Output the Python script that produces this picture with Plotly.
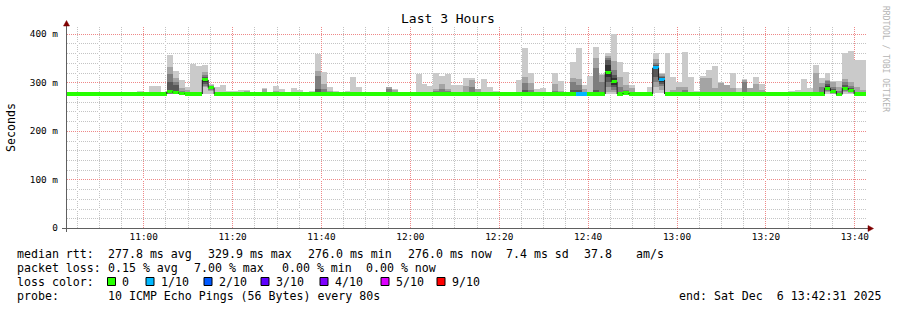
import math
import plotly.graph_objects as go
import pandas as pd

# ---------------- data ----------------
START = "2025-12-06 10:42:31"
END = "2025-12-06 13:42:31"
STEP_SECONDS = 80   # one probe round every 80 s

# median rtt per probe round, ms
median_ms = [
    276, 276, 276, 276, 276, 276, 276, 276, 276, 276, 276, 276, 276, 276, 276,
    276, 276, 281, 279, 277, 276, 276, 276, 305, 289, 276, 276, 276, 276, 276,
    276, 276, 276, 276, 276, 276, 276, 276, 276, 276, 276, 276, 276, 276, 276,
    276, 276, 276, 276, 276, 276, 276, 276, 276, 276, 276, 276, 276, 276, 276,
    276, 276, 276, 276, 276, 276, 276, 276, 276, 276, 276, 276, 276, 276, 276,
    276, 276, 276, 276, 276, 276, 276, 276, 276, 276, 276, 276, 276, 276, 276,
    276, 321, 301, 276, 278, 276, 276, 276, 276, 330, 305, 276, 276, 276, 276,
    276, 276, 276, 276, 276, 276, 276, 276, 276, 276, 276, 276, 276, 276, 276,
    276, 276, 276, 276, 276, 276, 276, 276, 288, 282, 275, 288, 284, 276, 276,
]

# lost pings (out of 10) per probe round
loss_count = [
    0, 0, 0, 0, 0, 0, 0, 0, 0, 0, 0, 0, 0, 0, 0,
    0, 0, 0, 0, 0, 0, 0, 0, 0, 0, 0, 0, 0, 0, 0,
    0, 0, 0, 0, 0, 0, 0, 0, 0, 0, 0, 0, 0, 0, 0,
    0, 0, 0, 0, 0, 0, 0, 0, 0, 0, 0, 0, 0, 0, 0,
    0, 0, 0, 0, 0, 0, 0, 0, 0, 0, 0, 0, 0, 0, 0,
    0, 0, 0, 0, 0, 0, 0, 0, 0, 0, 0, 1, 1, 0, 0,
    0, 0, 0, 0, 0, 0, 0, 0, 0, 1, 1, 0, 0, 0, 0,
    0, 0, 0, 0, 0, 0, 0, 0, 0, 0, 0, 0, 0, 0, 0,
    0, 0, 0, 0, 0, 0, 0, 0, 0, 0, 0, 0, 0, 0, 0,
]

# sorted ping times (smoke), highest ... lowest, ms
ping10 = [
    276, 276, 276, 276, 276, 276, 276, 276, 276, 276, 276, 276, 283, 281, 293,
    293, 276, 357, 324, 304, 291, 337, 333, 336, 297, 291, 294, 282, 282, 284,
    284, 280, 276, 288, 280, 293, 287, 276, 289, 284, 276, 282, 359, 322, 291,
    283, 281, 283, 311, 291, 276, 276, 276, 276, 291, 286, 276, 276, 276, 318,
    297, 293, 320, 314, 318, 295, 295, 309, 309, 287, 307, 290, 283, 276, 276,
    276, 304, 370, 320, 287, 289, 276, 320, 302, 276, 342, 371, 294, 314, 373,
    318, 360, 400, 342, 322, 295, 276, 276, 291, 360, 320, 361, 312, 301, 363,
    312, 283, 313, 326, 333, 300, 295, 319, 289, 307, 289, 310, 296, 276, 276,
    276, 281, 282, 284, 307, 288, 336, 309, 320, 302, 302, 361, 364, 345, 345,
]
ping9 = [
    276, 276, 276, 276, 276, 276, 276, 276, 276, 276, 276, 276, 276, 276, 276,
    276, 276, 332, 309, 289, 285, 276, 276, 322, 294, 276, 276, 276, 276, 276,
    282, 276, 276, 287, 280, 283, 276, 276, 276, 276, 276, 276, 324, 297, 283,
    276, 276, 276, 280, 276, 276, 276, 276, 276, 290, 285, 276, 276, 276, 276,
    276, 276, 286, 296, 286, 276, 276, 293, 304, 287, 276, 276, 276, 276, 276,
    276, 276, 311, 298, 276, 276, 276, 296, 283, 276, 309, 306, 287, 276, 350,
    316, 355, 343, 312, 295, 288, 276, 276, 276, 348, 318, 276, 285, 290, 290,
    281, 276, 308, 308, 288, 298, 295, 288, 276, 305, 288, 296, 285, 276, 276,
    276, 276, 276, 276, 276, 276, 319, 298, 305, 300, 290, 306, 300, 290, 285,
]
ping8 = [
    276, 276, 276, 276, 276, 276, 276, 276, 276, 276, 276, 276, 276, 276, 276,
    276, 276, 317, 300, 283, 281, 276, 276, 315, 292, 276, 276, 276, 276, 276,
    276, 276, 276, 276, 276, 276, 276, 276, 276, 276, 276, 276, 314, 287, 276,
    276, 276, 276, 276, 276, 276, 276, 276, 276, 286, 276, 276, 276, 276, 276,
    276, 276, 282, 287, 283, 276, 276, 276, 290, 276, 276, 276, 276, 276, 276,
    276, 276, 299, 285, 276, 276, 276, 282, 276, 276, 300, 295, 276, 276, 330,
    300, 350, 325, 290, 285, 276, 276, 276, 276, 340, 313, 276, 276, 276, 285,
    276, 276, 276, 280, 276, 276, 276, 276, 276, 300, 276, 276, 276, 276, 276,
    276, 276, 276, 276, 276, 276, 276, 290, 302, 290, 283, 300, 292, 276, 276,
]
ping7 = [
    276, 276, 276, 276, 276, 276, 276, 276, 276, 276, 276, 276, 276, 276, 276,
    276, 276, 300, 295, 280, 278, 276, 276, 310, 291, 276, 276, 276, 276, 276,
    276, 276, 276, 276, 276, 276, 276, 276, 276, 276, 276, 276, 287, 276, 276,
    276, 276, 276, 276, 276, 276, 276, 276, 276, 276, 276, 276, 276, 276, 276,
    276, 276, 276, 281, 276, 276, 276, 276, 276, 276, 276, 276, 276, 276, 276,
    276, 276, 285, 276, 276, 276, 276, 276, 276, 276, 285, 285, 276, 276, 285,
    276, 345, 315, 280, 276, 276, 276, 276, 276, 336, 310, 276, 276, 276, 276,
    276, 276, 276, 276, 276, 276, 276, 276, 276, 276, 276, 276, 276, 276, 276,
    276, 276, 276, 276, 276, 276, 276, 276, 296, 286, 276, 295, 288, 276, 276,
]
ping6 = [
    276, 276, 276, 276, 276, 276, 276, 276, 276, 276, 276, 276, 276, 276, 276,
    276, 276, 283, 281, 278, 277, 276, 276, 307, 290, 276, 276, 276, 276, 276,
    276, 276, 276, 276, 276, 276, 276, 276, 276, 276, 276, 276, 280, 276, 276,
    276, 276, 276, 276, 276, 276, 276, 276, 276, 276, 276, 276, 276, 276, 276,
    276, 276, 276, 276, 276, 276, 276, 276, 276, 276, 276, 276, 276, 276, 276,
    276, 276, 276, 276, 276, 276, 276, 276, 276, 276, 276, 276, 276, 276, 276,
    276, 335, 308, 276, 276, 276, 276, 276, 276, 333, 307, 276, 276, 276, 276,
    276, 276, 276, 276, 276, 276, 276, 276, 276, 276, 276, 276, 276, 276, 276,
    276, 276, 276, 276, 276, 276, 276, 276, 292, 284, 276, 291, 286, 276, 276,
]
ping5 = [
    276, 276, 276, 276, 276, 276, 276, 276, 276, 276, 276, 276, 276, 276, 276,
    276, 276, 280, 278, 277, 276, 276, 276, 301, 288, 276, 276, 276, 276, 276,
    276, 276, 276, 276, 276, 276, 276, 276, 276, 276, 276, 276, 276, 276, 276,
    276, 276, 276, 276, 276, 276, 276, 276, 276, 276, 276, 276, 276, 276, 276,
    276, 276, 276, 276, 276, 276, 276, 276, 276, 276, 276, 276, 276, 276, 276,
    276, 276, 276, 276, 276, 276, 276, 276, 276, 276, 276, 276, 276, 276, 276,
    276, 310, 295, 276, 276, 276, 276, 276, 276, 327, 301, 276, 276, 276, 276,
    276, 276, 276, 276, 276, 276, 276, 276, 276, 276, 276, 276, 276, 276, 276,
    276, 276, 276, 276, 276, 276, 276, 276, 287, 281, 276, 287, 283, 276, 276,
]
ping4 = [
    276, 276, 276, 276, 276, 276, 276, 276, 276, 276, 276, 276, 276, 276, 276,
    276, 276, 278, 277, 276, 276, 276, 276, 297, 287, 276, 276, 276, 276, 276,
    276, 276, 276, 276, 276, 276, 276, 276, 276, 276, 276, 276, 276, 276, 276,
    276, 276, 276, 276, 276, 276, 276, 276, 276, 276, 276, 276, 276, 276, 276,
    276, 276, 276, 276, 276, 276, 276, 276, 276, 276, 276, 276, 276, 276, 276,
    276, 276, 276, 276, 276, 276, 276, 276, 276, 276, 276, 276, 276, 276, 276,
    276, 300, 290, 276, 276, 276, 276, 276, 276, 310, 297, 276, 276, 276, 276,
    276, 276, 276, 276, 276, 276, 276, 276, 276, 276, 276, 276, 276, 276, 276,
    276, 276, 276, 276, 276, 276, 276, 276, 285, 280, 276, 285, 282, 276, 276,
]
ping3 = [
    276, 276, 276, 276, 276, 276, 276, 276, 276, 276, 276, 276, 276, 276, 276,
    276, 276, 277, 277, 276, 276, 276, 276, 293, 285, 276, 276, 276, 276, 276,
    276, 276, 276, 276, 276, 276, 276, 276, 276, 276, 276, 276, 276, 276, 276,
    276, 276, 276, 276, 276, 276, 276, 276, 276, 276, 276, 276, 276, 276, 276,
    276, 276, 276, 276, 276, 276, 276, 276, 276, 276, 276, 276, 276, 276, 276,
    276, 276, 276, 276, 276, 276, 276, 276, 276, 276, 276, 276, 276, 276, 276,
    276, 290, 285, 276, 276, 276, 276, 276, 276, 300, 292, 276, 276, 276, 276,
    276, 276, 276, 276, 276, 276, 276, 276, 276, 276, 276, 276, 276, 276, 276,
    276, 276, 276, 276, 276, 276, 276, 276, 283, 278, 276, 283, 280, 276, 276,
]
ping2 = [
    276, 276, 276, 276, 276, 276, 276, 276, 276, 276, 276, 276, 276, 276, 276,
    276, 276, 276, 276, 276, 276, 276, 276, 290, 282, 276, 276, 276, 276, 276,
    276, 276, 276, 276, 276, 276, 276, 276, 276, 276, 276, 276, 276, 276, 276,
    276, 276, 276, 276, 276, 276, 276, 276, 276, 276, 276, 276, 276, 276, 276,
    276, 276, 276, 276, 276, 276, 276, 276, 276, 276, 276, 276, 276, 276, 276,
    276, 276, 276, 276, 276, 276, 276, 276, 276, 276, 276, 276, 276, 276, 276,
    276, 280, 280, 276, 276, 276, 276, 276, 276, 290, 285, 276, 276, 276, 276,
    276, 276, 276, 276, 276, 276, 276, 276, 276, 276, 276, 276, 276, 276, 276,
    276, 276, 276, 276, 276, 276, 276, 276, 280, 277, 276, 280, 278, 276, 276,
]
ping1 = [
    276, 276, 276, 276, 276, 276, 276, 276, 276, 276, 276, 276, 276, 276, 276,
    276, 276, 275, 275, 275, 276, 276, 276, 276, 276, 276, 276, 276, 276, 276,
    276, 276, 276, 276, 276, 276, 276, 276, 276, 276, 276, 276, 276, 276, 276,
    276, 276, 276, 276, 276, 276, 276, 276, 276, 276, 276, 276, 276, 276, 276,
    276, 276, 276, 276, 276, 276, 276, 276, 276, 276, 276, 276, 276, 276, 276,
    276, 276, 276, 276, 276, 276, 276, 276, 276, 276, 276, 276, 276, 276, 276,
    276, 276, 276, 276, 276, 276, 276, 276, 276, 278, 278, 276, 276, 276, 276,
    276, 276, 276, 276, 276, 276, 276, 276, 276, 276, 276, 276, 276, 276, 276,
    276, 276, 276, 276, 276, 276, 276, 276, 276, 276, 276, 276, 276, 276, 276,
]

y_tick_vals = [0, 100, 200, 300, 400]
y_tick_text = ["0", "100 m", "200 m", "300 m", "400 m"]

loss_levels = [0, 1, 2, 3, 4, 5, 9]
loss_labels = ["0", "1/10", "2/10", "3/10", "4/10", "5/10", "9/10"]
loss_colors = ["#26ff00", "#00b8ff", "#0059ff", "#5e00ff", "#7e00ff", "#dd00ff", "#ff0000"]

stats_rtt = ["median rtt:", "277.8 ms avg", "329.9 ms max", "276.0 ms min",
             "276.0 ms now", "7.4 ms sd", "37.8", "am/s"]
stats_loss = ["packet loss:", "0.15 % avg", "7.00 % max", "0.00 % min", "0.00 % now"]
probe_text = ["probe:", "10 ICMP Echo Pings (56 Bytes) every 80s"]
end_text = "end: Sat Dec  6 13:42:31 2025"

# ---------------- figure ----------------
W, H = 897, 310
L, R, T, B = 66, 866, 26, 228
Y_MAX = 416
MONO = "DejaVu Sans Mono"
MAJOR_GRID = "#ee8888"
MINOR_GRID = "#c4c4c4"


def pxx(x):
    return (x - L) / (R - L)


def pxy(y):
    return (B - y) / (B - T)


n = len(median_ms)
step = pd.Timedelta(seconds=STEP_SECONDS)
t_start, t_end = pd.Timestamp(START), pd.Timestamp(END)
span = (t_end - t_start).total_seconds()
edges = [t_start + i * step for i in range(n + 1)]
centers = [e + step / 2 for e in edges[:-1]]
bar_w = STEP_SECONDS * 1000

uppers = [ping10, ping9, ping8, ping7, ping6]
lowers = [ping1, ping2, ping3, ping4, ping5]
smoke_colors = ["#cacaca", "#a4a4a4", "#7e7e7e", "#585858", "#323232"]

fig = go.Figure()
for up, lo, col in zip(uppers, lowers, smoke_colors):
    fig.add_trace(go.Bar(
        x=centers, y=[u - l for u, l in zip(up, lo)], base=lo, width=bar_w,
        marker=dict(color=col, line=dict(width=0)), hoverinfo="skip",
        showlegend=False))

color_of = dict(zip(loss_levels, loss_colors))
band = 6.4
fig.add_trace(go.Bar(
    x=centers, y=[band] * n, base=[m - band / 2 for m in median_ms], width=bar_w,
    marker=dict(color=[color_of[c] for c in loss_count], line=dict(width=0)),
    hoverinfo="skip", showlegend=False))

# dark median steps (vertical jumps)
vx, vy = [], []
for i in range(1, n):
    if median_ms[i] != median_ms[i - 1]:
        vx += [edges[i], edges[i], None]
        vy += [median_ms[i - 1], median_ms[i], None]
fig.add_trace(go.Scatter(x=vx, y=vy, mode="lines",
                         line=dict(color="#202020", width=1),
                         hoverinfo="skip", showlegend=False))

fig.update_layout(
    width=W, height=H, autosize=False,
    margin=dict(l=L, r=W - R, t=T, b=H - B, pad=0),
    paper_bgcolor="white", plot_bgcolor="white",
    barmode="overlay", bargap=0,
    showlegend=False,
    font=dict(family=MONO, color="#000000"),
)

fig.update_xaxes(
    type="date", range=[START, END],
    tickformat="%H:%M", tick0="2025-12-06 11:00:00", dtick=20 * 60 * 1000,
    showgrid=False, showline=False, zeroline=False, ticks="", ticklabelstandoff=2,
    tickfont=dict(family=MONO, size=9.4, color="#000000"),
    fixedrange=True,
)
fig.update_yaxes(
    range=[0, Y_MAX], tickmode="array", tickvals=y_tick_vals, ticktext=y_tick_text,
    showgrid=False, showline=False, zeroline=False, ticks="", ticklabelstandoff=7,
    tickfont=dict(family=MONO, size=9.4, color="#000000"),
    fixedrange=True,
)

# dotted grid built from 1x1 pixel squares
dots = {True: [], False: []}


def rect(x0, y0):
    return "M{:.6f},{:.6f}H{:.6f}V{:.6f}H{:.6f}Z".format(
        pxx(x0), pxy(y0 + 1), pxx(x0 + 1), pxy(y0), pxx(x0))


# vertical: every 5 min, red every 20 min
g = pd.Timestamp("2025-12-06 10:45:00")
while g <= t_end:
    c = math.floor(L + (g - t_start).total_seconds() / span * (R - L))
    major = g.minute % 20 == 0
    for row in range(B - 1, T - 1, -2):
        dots[major].append(rect(c, row))
    g += pd.Timedelta(minutes=5)

# horizontal: every 20 ms, red every 100 ms
for v in range(20, Y_MAX, 20):
    r = round(B - v * (B - T) / Y_MAX)
    major = v % 100 == 0
    for col in range(L + 1, R, 2):
        dots[major].append(rect(col, r))

shapes = []
for major, colr in ((False, MINOR_GRID), (True, MAJOR_GRID)):
    shapes.append(dict(type="path", xref="paper", yref="paper", layer="between",
                       path="".join(dots[major]), fillcolor=colr,
                       line=dict(width=0)))

shapes += [
    # axis lines
    dict(type="line", xref="paper", yref="paper", x0=pxx(66.5), x1=pxx(66.5),
         y0=pxy(232), y1=pxy(23), line=dict(color="#606060", width=1)),
    dict(type="line", xref="paper", yref="paper", x0=pxx(62), x1=pxx(868),
         y0=pxy(228.5), y1=pxy(228.5), line=dict(color="#606060", width=1)),
    # arrows
    dict(type="path", xref="paper", yref="paper",
         path="M {},{} L {},{} L {},{} Z".format(pxx(66.5), pxy(20.5), pxx(63.5), pxy(26), pxx(69.5), pxy(26)),
         fillcolor="#7f0000", line=dict(color="#7f0000", width=0.5)),
    dict(type="path", xref="paper", yref="paper",
         path="M {},{} L {},{} L {},{} Z".format(pxx(873.5), pxy(228.5), pxx(868), pxy(225.5), pxx(868), pxy(231.5)),
         fillcolor="#7f0000", line=dict(color="#7f0000", width=0.5)),
]

annotations = []


def add_text(txt, x, y, size=11.6, color="#000000", anchor="left", angle=0, family=MONO):
    annotations.append(dict(
        text=txt, xref="paper", yref="paper", x=pxx(x), y=pxy(y),
        xanchor=anchor, yanchor="middle", showarrow=False, textangle=angle,
        font=dict(family=family, size=size, color=color), borderpad=0))


add_text("Last 3 Hours", 448, 19, size=13, anchor="center")
add_text("Seconds", 11, 127, size=11.6, anchor="center", angle=-90)
add_text("RRDTOOL / TOBI OETIKER", 886, 59, size=8, color="#b4b4b4", anchor="center", angle=90)

rtt_x = [16, 107, 207, 307, 407, 505, 583, 635]
for s, x in zip(stats_rtt, rtt_x):
    add_text(s, x, 254)
loss_x = [16, 107, 193, 281, 365]
for s, x in zip(stats_loss, loss_x):
    add_text(s, x, 268)
add_text("loss color:", 16, 282)
box_x = [107.5, 146, 204, 261, 320, 381, 437]
for lbl, colr, bx in zip(loss_labels, loss_colors, box_x):
    shapes.append(dict(type="rect", xref="paper", yref="paper",
                       x0=pxx(bx), x1=pxx(bx + 8), y0=pxy(285.5), y1=pxy(277.5),
                       fillcolor=colr, line=dict(color="#000000", width=1)))
    add_text(lbl, bx + 13.5, 282)
add_text(probe_text[0], 16, 296)
add_text(probe_text[1], 107, 296)
add_text(end_text, 678, 296)

fig.update_layout(shapes=shapes, annotations=annotations)
fig.write_html("out.html")
